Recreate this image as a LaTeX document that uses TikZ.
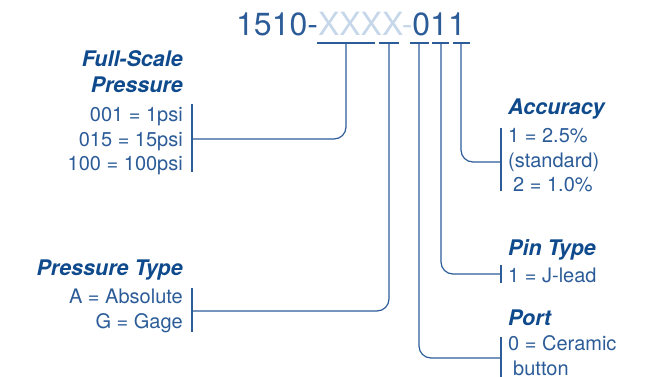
\documentclass[tikz,border=0pt]{standalone}
\usepackage{fontspec}
\setmainfont{TeX Gyre Heros}
\usepackage{xcolor}
\usepackage{tikz}
\definecolor{heading}{HTML}{0F4A8C}
\definecolor{body}{HTML}{2C5C98}
\definecolor{faded}{HTML}{C6D7EA}
\tikzset{
  conn/.style={draw=body, line width=1.2pt, rounded corners=12pt},
  tickline/.style={draw=body, line width=1.2pt},
  head/.style={text=heading, font=\fontsize{21.5}{26.5}\selectfont\bfseries\itshape, inner sep=0pt},
  item/.style={text=body, font=\fontsize{20}{24.8}\selectfont, inner sep=0pt},
}

\begin{document}
\begin{tikzpicture}[x=1pt,y=-1pt]
  \useasboundingbox (0,0) rectangle (657,377);

  % part number and its code underlines
  \node[item, font=\fontsize{32}{32}\selectfont, anchor=base west] (part) at (236,36)
    {1510-\textcolor{faded}{XXXX-}011};
  \foreach \a/\b in {317/375,379/399,410/429,432/449,453/470}
    \draw[tickline] (\a,43) -- (\b,43);
  \coordinate (uFS) at (346,43);
  \coordinate (uPT) at (389,43);
  \coordinate (uPort) at (419,43);
  \coordinate (uPin) at (441,43);
  \coordinate (uAcc) at (461,43);

  % left side (multi-line nodes sit on their last baseline)
  \node[head, anchor=base east, align=right] (fshead) at (183,93) {Full-Scale\\Pressure};
  \node[item, anchor=base east, align=right] (fsitems) at (183,171)
    {001 = 1psi\\015 = 15psi\\100 = 100psi};
  \node[head, anchor=base east] (pthead) at (183,276) {Pressure Type};
  \node[item, anchor=base east, align=right] (ptitems) at (183,328)
    {A = Absolute\\G = Gage};

  \coordinate (fsbar) at (192,139);
  \coordinate (ptbar) at (192,311);
  \draw[tickline] (192,104) -- (192,172);
  \draw[tickline] (192,288) -- (192,332);
  \draw[conn] (fsbar) -| (uFS);
  \draw[conn] (ptbar) -| (uPT);

  % right side
  \node[head, anchor=base west] (acchead) at (508,115) {Accuracy};
  \node[item, anchor=base west, align=left] (accitems) at (508,192)
    {1 = 2.5\%\\(standard)\\\hspace{5pt}2 = 1.0\%};
  \node[head, anchor=base west] (pinhead) at (508,256) {Pin Type};
  \node[item, anchor=base west] (pinitems) at (508,283) {1 = J-lead};
  \node[head, anchor=base west] (porthead) at (508,326) {Port};
  \node[item, anchor=base west, align=left] (portitems) at (508,375)
    {0 = Ceramic\\\hspace{5pt}button};

  \coordinate (accbar) at (501,162);
  \coordinate (pinbar) at (501,274);
  \coordinate (portbar) at (501,358);
  \draw[tickline] (501,128) -- (501,191);
  \draw[tickline] (501,265) -- (501,283);
  \draw[tickline] (501,337) -- (501,377);
  \draw[conn] (uAcc) |- (accbar);
  \draw[conn] (uPin) |- (pinbar);
  \draw[conn] (uPort) |- (portbar);
\end{tikzpicture}
\end{document}
